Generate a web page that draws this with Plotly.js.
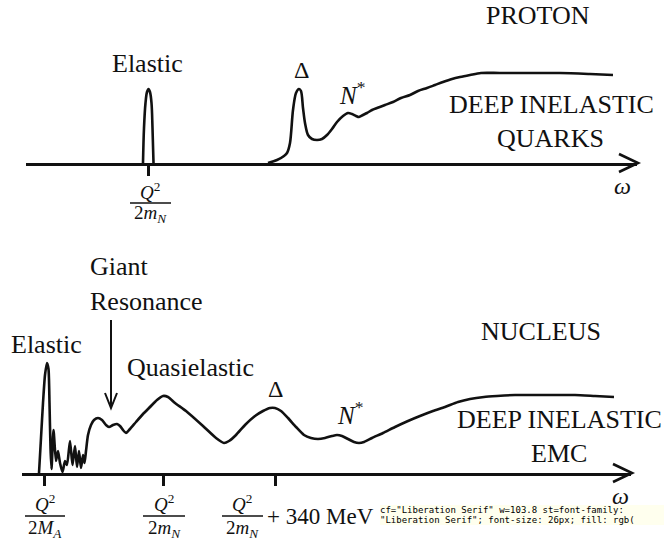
<!DOCTYPE html>
<html>
<head>
<meta charset="utf-8">
<script src="https://cdn.plot.ly/plotly-3.0.1.min.js"></script>
</head>
<body style="margin:0">
<div id="chart" style="width:664px;height:544px"></div>
<div id="diag" style="position:absolute;left:380px;top:505px;width:284px;font:9px monospace;background:#ffe;white-space:pre-wrap"></div>
<script>
// ---------- DATA (schematic response functions, omega in arbitrary units) ----------
const protonElasticW = [143, 144, 145.5, 147, 148.5, 150, 151.5, 152.5, 153.5];
const protonElasticI = [0, 35, 60, 71, 74, 71, 60, 35, 0];
const protonInelasticW = [268, 277, 284, 287, 290, 293, 296, 299, 301, 303, 305, 308, 312, 317, 322, 327, 332, 337, 343, 348, 352, 356, 359, 363, 367, 372, 377, 385, 393, 401, 410, 418, 427, 435, 443, 452, 460, 470, 481, 500, 530, 560, 590, 613];
const protonInelasticI = [0, 3, 7, 10, 20, 53, 70, 74, 72, 55, 40, 28, 24, 23, 24, 28, 34, 41, 47, 50, 49, 47, 46, 48, 50, 53, 55, 58, 61, 65, 68, 72, 75, 78, 81, 84, 86, 88, 90, 90, 90, 90, 89, 88];
const nucleusW = [39, 41, 43, 45, 47, 48.5, 49.5, 50.5, 51.5, 53.5, 56, 58, 60, 62.5, 65, 67, 70, 72.5, 75, 77, 79, 81, 83, 84.5, 86, 88, 91, 94, 98, 102, 106, 109, 113, 117, 120, 123, 126, 130, 136, 143, 150, 157, 163, 168, 175, 186, 203, 216, 224, 229, 236, 245, 255, 263, 270, 275, 281, 288, 296, 304, 311, 318, 325, 332, 337, 342, 348, 354, 359, 364, 372, 383, 395, 408, 420, 433, 445, 458, 470, 484, 497, 515, 535, 555, 575, 595, 614];
const nucleusI = [0, 35, 70, 98, 110, 104, 70, 25, 4, 43, 12, 22, 10, 1, 12, 8, 32, 8, 27, 6, 22, 5, 18, 10, 22, 38, 48, 53, 55, 53, 48, 46, 48, 49, 47, 43, 40, 44, 51, 59, 66, 73, 77, 76, 70, 62, 47, 35, 30, 32, 38, 48, 57, 62, 65, 65, 62, 55, 46, 38, 35, 34, 35, 37, 38, 37, 34, 31, 30, 31, 35, 40, 46, 52, 57, 62, 66, 71, 74, 76, 77, 78, 78, 78, 78, 77, 76];
const protonTicks = [148];
const nucleusTicks = [44, 163, 275];
const DELTA = '\u0394';
const OMEGA = '<i>\u03C9</i>';
const protonLabels = ['Elastic', DELTA, '<i>N</i><sup>*</sup>', 'PROTON', 'DEEP INELASTIC', 'QUARKS'];
const nucleusLabels = ['Giant', 'Resonance', 'Elastic', 'Quasielastic', DELTA, '<i>N</i><sup>*</sup>', 'NUCLEUS', 'DEEP INELASTIC', 'EMC'];

const W = 664, H = 544;
const FONT = 'Liberation Serif';
const INK = '#111';
const px = c => c / W;
const py = r => 1 - r / H;

function label(text, col, row, size, opts) {
  return Object.assign({
    text: text, xref: 'paper', yref: 'paper', x: px(col), y: py(row),
    xanchor: 'center', yanchor: 'middle', showarrow: false,
    font: {family: FONT, size: size, color: INK}
  }, opts || {});
}

const traces = [
  {x: protonElasticW, y: protonElasticI, xaxis: 'x', yaxis: 'y', mode: 'lines',
   line: {color: INK, width: 2.6, shape: 'spline', smoothing: 1}, hoverinfo: 'skip'},
  {x: protonInelasticW, y: protonInelasticI, xaxis: 'x', yaxis: 'y', mode: 'lines',
   line: {color: INK, width: 2.6, shape: 'spline', smoothing: 0.8}, hoverinfo: 'skip'},
  {x: nucleusW, y: nucleusI, xaxis: 'x2', yaxis: 'y2', mode: 'lines',
   line: {color: INK, width: 2.6, shape: 'spline', smoothing: 0.6}, hoverinfo: 'skip'}
];

const axisCommon = {
  showgrid: false, zeroline: false, showline: true, linecolor: INK, linewidth: 3,
  ticks: 'outside', ticklen: 10, tickwidth: 3, tickcolor: INK, showticklabels: false,
  tickmode: 'array', fixedrange: true
};
const yCommon = {showgrid: false, zeroline: false, showline: false, showticklabels: false, ticks: '', fixedrange: true};

const annotations = [
  label(protonLabels[0], 147, 63, 26),
  label(protonLabels[1], 301, 70, 24),
  label(protonLabels[2], 352, 93, 25),
  label(protonLabels[3], 538, 15, 26),
  label(protonLabels[4], 551, 105, 26),
  label(protonLabels[5], 550, 138, 26),
  label(OMEGA, 622, 186, 24),
  label('<i>Q</i><sup>2</sup>', 150, 191, 19),
  label('2<i>m</i><sub><i>N</i></sub>', 150, 214, 19),
  label(nucleusLabels[0], 88, 267, 26, {xanchor: 'left'}),
  label(nucleusLabels[1], 88, 301, 26, {xanchor: 'left'}),
  label(nucleusLabels[2], 46, 344, 26),
  label(nucleusLabels[3], 190, 367, 26),
  label(nucleusLabels[4], 275, 389, 24),
  label(nucleusLabels[5], 350, 413, 25),
  label(nucleusLabels[6], 541, 331, 26),
  label(nucleusLabels[7], 559, 419, 26),
  label(nucleusLabels[8], 559, 453, 26),
  label(OMEGA, 620, 496, 24),
  label('<i>Q</i><sup>2</sup>', 45, 503, 19),
  label('2<i>M</i><sub><i>A</i></sub>', 45, 529, 19),
  label('<i>Q</i><sup>2</sup>', 164, 503, 19),
  label('2<i>m</i><sub><i>N</i></sub>', 164, 529, 19),
  label('<i>Q</i><sup>2</sup>', 242, 503, 19),
  label('2<i>m</i><sub><i>N</i></sub>', 242, 529, 19),
  label('+ 340 MeV', 265, 516, 23, {xanchor: 'left'})
];

const shapes = [
  {type: 'path', xref: 'paper', yref: 'paper', path: `M ${px(619)} ${py(154)} L ${px(638)} ${py(163)} L ${px(619)} ${py(172)}`, line: {color: INK, width: 2.6}},
  {type: 'path', xref: 'paper', yref: 'paper', path: `M ${px(613)} ${py(464)} L ${px(632)} ${py(473)} L ${px(613)} ${py(482)}`, line: {color: INK, width: 2.6}},
  {type: 'line', xref: 'paper', yref: 'paper', x0: px(130), x1: px(171), y0: py(203), y1: py(203), line: {color: INK, width: 1.3}},
  {type: 'line', xref: 'paper', yref: 'paper', x0: px(25), x1: px(65), y0: py(516), y1: py(516), line: {color: INK, width: 1.3}},
  {type: 'line', xref: 'paper', yref: 'paper', x0: px(143), x1: px(185), y0: py(516), y1: py(516), line: {color: INK, width: 1.3}},
  {type: 'line', xref: 'paper', yref: 'paper', x0: px(222), x1: px(263), y0: py(516), y1: py(516), line: {color: INK, width: 1.3}},
  {type: 'line', xref: 'paper', yref: 'paper', x0: px(111), x1: px(111), y0: py(320), y1: py(407), line: {color: INK, width: 2}},
  {type: 'path', xref: 'paper', yref: 'paper', path: `M ${px(105)} ${py(393)} L ${px(111)} ${py(408)} L ${px(117)} ${py(393)}`, line: {color: INK, width: 2}}
];

const layout = {
  width: W, height: H, margin: {l: 0, r: 0, t: 0, b: 0},
  paper_bgcolor: '#fff', plot_bgcolor: 'rgba(0,0,0,0)', showlegend: false,
  xaxis: Object.assign({}, axisCommon, {domain: [26 / W, 637 / W], range: [26, 637], anchor: 'y', tickvals: protonTicks}),
  yaxis: Object.assign({}, yCommon, {domain: [1 - 163 / H, 1], range: [0, 163], anchor: 'x'}),
  xaxis2: Object.assign({}, axisCommon, {domain: [22 / W, 631 / W], range: [22, 631], anchor: 'y2', tickvals: nucleusTicks}),
  yaxis2: Object.assign({}, yCommon, {domain: [1 - 473 / H, 1 - 250 / H], range: [0, 223], anchor: 'x2'}),
  annotations: annotations, shapes: shapes
};

Plotly.newPlot('chart', traces, layout, {displayModeBar: false}).then(() => {
  const t = document.querySelectorAll('#chart .annotation-text')[3];
  document.getElementById('diag').textContent = 'cf=' + getComputedStyle(t).fontFamily + ' w=' + t.getBBox().width.toFixed(1) + ' st=' + (t.getAttribute('style') || '').slice(0, 60);
});
</script>
</body>
</html>
